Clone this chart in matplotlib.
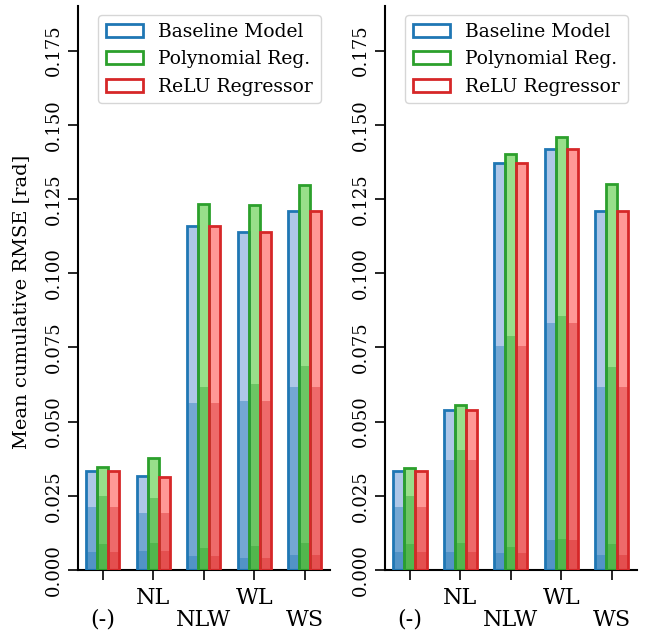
import matplotlib
matplotlib.use("Agg")
import matplotlib.pyplot as plt
from matplotlib.patches import Patch
import numpy as np

plt.rcParams['font.family'] = ['DejaVu Serif']

# Categorias del eje x
categories = ['(-)', 'NL', 'NLW', 'WL', 'WS']
models = ['Baseline Model', 'Polynomial Reg.', 'ReLU Regressor']

# Panel izquierdo: total, nivel medio, nivel bajo
left_base_top = [0.0333, 0.0317, 0.1160, 0.1138, 0.1211]
left_base_mid = [0.0211, 0.0191, 0.0564, 0.0571, 0.0618]
left_base_low = [0.0061, 0.0064, 0.0047, 0.0040, 0.0051]
left_poly_top = [0.0346, 0.0377, 0.1232, 0.1229, 0.1298]
left_poly_mid = [0.0250, 0.0243, 0.0618, 0.0627, 0.0686]
left_poly_low = [0.0088, 0.0090, 0.0075, 0.0081, 0.0090]
left_relu_top = [0.0332, 0.0315, 0.1160, 0.1138, 0.1211]
left_relu_mid = [0.0211, 0.0191, 0.0564, 0.0571, 0.0618]
left_relu_low = [0.0061, 0.0064, 0.0047, 0.0040, 0.0051]

# Panel derecho
right_base_top = [0.0333, 0.0540, 0.1370, 0.1419, 0.1210]
right_base_mid = [0.0211, 0.0369, 0.0754, 0.0832, 0.0618]
right_base_low = [0.0060, 0.0062, 0.0056, 0.0100, 0.0049]
right_poly_top = [0.0345, 0.0557, 0.1400, 0.1460, 0.1300]
right_poly_mid = [0.0248, 0.0405, 0.0789, 0.0856, 0.0685]
right_poly_low = [0.0087, 0.0091, 0.0077, 0.0103, 0.0089]
right_relu_top = [0.0332, 0.0540, 0.1370, 0.1419, 0.1210]
right_relu_mid = [0.0211, 0.0369, 0.0754, 0.0832, 0.0618]
right_relu_low = [0.0060, 0.0062, 0.0056, 0.0100, 0.0049]

yticks = [0.000, 0.025, 0.050, 0.075, 0.100, 0.125, 0.150, 0.175]

edge_colors = ['tab:blue', 'tab:green', 'tab:red']
light_colors = ['#aec7e8', '#98df8a', '#ff9896']

left_data = [
    (left_base_top, left_base_mid, left_base_low),
    (left_poly_top, left_poly_mid, left_poly_low),
    (left_relu_top, left_relu_mid, left_relu_low),
]
right_data = [
    (right_base_top, right_base_mid, right_base_low),
    (right_poly_top, right_poly_mid, right_poly_low),
    (right_relu_top, right_relu_mid, right_relu_low),
]

fig = plt.figure(figsize=(6.52, 6.33), dpi=100)
ax1 = fig.add_axes([0.119, 0.0995, 0.387, 0.891])
ax2 = fig.add_axes([0.590, 0.0995, 0.387, 0.891])

width = 0.22
x = np.arange(len(categories))

for ax, data in [(ax1, left_data), (ax2, right_data)]:
    for k, (top, mid, low) in enumerate(data):
        pos = x + (k - 1) * width
        ax.bar(pos, top, width, color=light_colors[k], linewidth=0, zorder=2)
        ax.bar(pos, mid, width, color=edge_colors[k], alpha=0.4, linewidth=0, zorder=3)
        ax.bar(pos, low, width, color=edge_colors[k], alpha=0.4, linewidth=0, zorder=4)
        ax.bar(pos, top, width, fill=False, edgecolor=edge_colors[k], linewidth=2.0, zorder=5)

    ax.set_xlim(-0.5, 4.5)
    ax.set_ylim(0, 0.19)
    ax.set_yticks(yticks)
    ax.set_yticklabels(['%.3f' % v for v in yticks], rotation=90, va='center', fontsize=13)
    ax.set_xticks(x)
    ax.set_xticklabels(categories, fontsize=16)
    for i, tick in enumerate(ax.xaxis.get_major_ticks()):
        if i % 2 == 0:
            tick.set_pad(21)
        else:
            tick.set_pad(5)
    ax.tick_params(axis='both', length=7, width=1.2)
    for s in ['top', 'right']:
        ax.spines[s].set_visible(False)
    for s in ['left', 'bottom']:
        ax.spines[s].set_linewidth(1.5)

    handles = [Patch(facecolor='white', edgecolor=c, linewidth=2.0) for c in edge_colors]
    ax.legend(handles, models, loc='upper right', fontsize=13.5, handlelength=2.0)

ax1.set_ylabel('Mean cumulative RMSE [rad]', fontsize=14)
ax1.yaxis.set_label_coords(-0.19, 0.475)

fig.savefig('out.png', dpi=100)
